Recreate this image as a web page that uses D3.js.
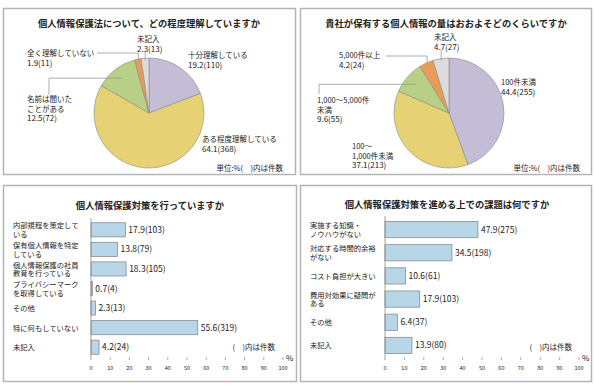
<!DOCTYPE html>
<html>
<head>
<meta charset="utf-8">
<script src="https://cdn.jsdelivr.net/npm/d3@7"></script>
<style>
  body { margin: 0; background: #fff; }
  text { font-family: "Noto Sans CJK JP", sans-serif; fill: #222; }
</style>
</head>
<body>
<svg id="chart" width="594" height="392"></svg>
<script>
// --- data ---
const knowLabels = [["十分理解している"], ["ある程度理解している"], ["名前は聞いた", "ことがある"], ["全く理解していない"], ["未記入"]]
const knowValues = [19.2, 64.1, 12.5, 1.9, 2.3]
const knowCounts = [110, 368, 72, 11, 13]

const amountLabels = [["100件未満"], ["100～", "1,000件未満"], ["1,000～5,000件", "未満"], ["5,000件以上"], ["未記入"]]
const amountValues = [44.4, 37.1, 9.6, 4.2, 4.7]
const amountCounts = [255, 213, 55, 24, 27]

const measureLabels = [["内部規程を策定して", "いる"], ["保有個人情報を特定", "している"], ["個人情報保護の社員", "教育を行っている"], ["プライバシーマーク", "を取得している"], ["その他"], ["特に何もしていない"], ["未記入"]]
const measureValues = [17.9, 13.8, 18.3, 0.7, 2.3, 55.6, 4.2]
const measureCounts = [103, 79, 105, 4, 13, 319, 24]

const issueLabels = [["実施する知識・", "ノウハウがない"], ["対応する時間的余裕", "がない"], ["コスト負担が大きい"], ["費用対効果に疑問が", "ある"], ["その他"], ["未記入"]]
const issueValues = [47.9, 34.5, 10.6, 17.9, 6.4, 13.9]
const issueCounts = [275, 198, 61, 103, 37, 80]

const pctTicks = [0, 10, 20, 30, 40, 50, 60, 70, 80, 90, 100]
const sliceColors = ["#c5bcd6", "#e6d274", "#b9cf86", "#e89c58", "#dcdcdc"]

const svg = d3.select("#chart")

// panel frames
const panels = [
  { x: 3.5, y: 8.5, w: 292, h: 166 },
  { x: 300.5, y: 8.5, w: 291, h: 166 },
  { x: 3.5, y: 185.5, w: 293, h: 196 },
  { x: 300.5, y: 185.5, w: 291, h: 196 }
]
svg.selectAll("rect.panel").data(panels).join("rect")
  .attr("class", "panel")
  .attr("x", d => d.x).attr("y", d => d.y)
  .attr("width", d => d.w).attr("height", d => d.h)
  .attr("fill", "none").attr("stroke", "#b4b4b4").attr("stroke-width", 1.5)

function title(x, y, t) {
  svg.append("text").attr("x", x).attr("y", y)
    .attr("text-anchor", "middle").attr("dominant-baseline", "central")
    .style("font-size", "9.3px").style("font-weight", "bold")
    .text(t)
}

// pie chart with labels and leader lines
function drawPie(cx, cy, r, labels, values, counts, layout) {
  const g = svg.append("g").attr("transform", `translate(${cx},${cy})`)
  const arcs = d3.pie().sort(null)(values)
  g.selectAll("path").data(arcs).join("path")
    .attr("d", d3.arc().innerRadius(0).outerRadius(r))
    .attr("fill", (d, i) => sliceColors[i])
    .attr("stroke", "#8a8a8a").attr("stroke-width", 0.6)

  arcs.forEach((a, i) => {
    const L = layout[i]
    const lines = labels[i].concat([values[i].toFixed(1) + "(" + counts[i] + ")"])
    const t = svg.append("text").style("font-size", "7.5px")
    lines.forEach((s, k) => {
      t.append("tspan").attr("x", L.x).attr("y", L.y + k * 9.5)
        .style("font-size", k === lines.length - 1 ? "8px" : null)
        .text(s)
    })
    if (L.leader) {
      const mid = (a.startAngle + a.endAngle) / 2
      const tx = cx + L.rf * r * Math.sin(mid)
      const ty = cy - L.rf * r * Math.cos(mid)
      let pts
      if (L.leader === "hv") pts = [[L.sx, L.sy], [tx, L.sy], [tx, ty]]
      else if (L.leader === "vh") pts = [[L.sx, L.sy], [L.sx, ty], [tx, ty]]
      else pts = [[tx, L.sy], [tx, ty]]
      svg.append("path").attr("d", d3.line()(pts))
        .attr("fill", "none").attr("stroke", "#999").attr("stroke-width", 0.8)
    }
  })
}

// horizontal bar chart
function drawBars(labels, values, counts, x0, x1, y0, y1, labelX, pad, noteX) {
  const x = d3.scaleLinear().domain([0, 100]).range([x0, x1])
  const y = d3.scaleBand().domain(d3.range(values.length)).range([y0, y1])
    .paddingInner(pad).paddingOuter(pad / 2)
  const g = svg.append("g")

  g.selectAll("rect").data(values).join("rect")
    .attr("x", x(0)).attr("y", (d, i) => y(i))
    .attr("width", d => x(d) - x(0)).attr("height", y.bandwidth())
    .attr("fill", "#b7d7e8").attr("stroke", "#8c8c8c").attr("stroke-width", 0.8)

  g.selectAll("text.val").data(values).join("text")
    .attr("class", "val")
    .attr("x", d => x(d) + 3).attr("y", (d, i) => y(i) + y.bandwidth() / 2 - 1)
    .attr("dominant-baseline", "central").style("font-size", "8.5px")
    .text((d, i) => d.toFixed(1) + "(" + counts[i] + ")")

  labels.forEach((lines, i) => {
    const c = y(i) + y.bandwidth() / 2
    const t = g.append("text").style("font-size", "7.3px").attr("dominant-baseline", "central")
    lines.forEach((s, k) => {
      t.append("tspan").attr("x", labelX).attr("y", c - (lines.length - 1) * 4.4 + k * 8.8).text(s)
    })
  })

  // left axis line
  g.append("line").attr("x1", x0).attr("x2", x0).attr("y1", y0 - 2).attr("y2", 360)
    .attr("stroke", "#8c8c8c").attr("stroke-width", 0.8)

  // ticks
  g.selectAll("line.tick").data(pctTicks.slice(1)).join("line")
    .attr("class", "tick")
    .attr("x1", d => x(d)).attr("x2", d => x(d)).attr("y1", 357).attr("y2", 360)
    .attr("stroke", "#8c8c8c").attr("stroke-width", 0.7)
  g.selectAll("text.tick").data(pctTicks).join("text")
    .attr("class", "tick")
    .attr("x", d => x(d)).attr("y", 368)
    .attr("text-anchor", "middle").attr("dominant-baseline", "central")
    .style("font-size", "5.5px")
    .text(d => d)

  g.append("text").attr("x", noteX).attr("y", 346).attr("text-anchor", "end")
    .attr("dominant-baseline", "central").style("font-size", "7.5px").text("(\u3000)内は件数")
  g.append("text").attr("x", x1 + 3).attr("y", 357)
    .attr("dominant-baseline", "central").style("font-size", "8px").text("%")
}

// --- top left ---
title(149, 23, "個人情報保護法について、どの程度理解していますか")
drawPie(149, 113, 55, knowLabels, knowValues, knowCounts, [
  { x: 188, y: 58 },
  { x: 202, y: 142 },
  { x: 27, y: 102, leader: "vh", sx: 49, sy: 95, rf: 0.8 },
  { x: 27, y: 56, leader: "hv", sx: 97, sy: 53, rf: 0.96 },
  { x: 137, y: 42, leader: "v", sy: 52, rf: 0.96 }
])
svg.append("text").attr("x", 283).attr("y", 167).attr("text-anchor", "end")
  .attr("dominant-baseline", "central").style("font-size", "7.5px").text("単位:%(\u3000)内は件数")

// --- top right ---
title(446, 23, "貴社が保有する個人情報の量はおおよそどのくらいですか")
drawPie(449, 113, 55, amountLabels, amountValues, amountCounts, [
  { x: 501, y: 85 },
  { x: 352, y: 149 },
  { x: 317, y: 103, leader: "vh", sx: 319, sy: 94, rf: 0.8 },
  { x: 339, y: 58, leader: "hv", sx: 386, sy: 56, rf: 0.96 },
  { x: 434, y: 40, leader: "v", sy: 50, rf: 0.96 }
])
svg.append("text").attr("x", 580).attr("y", 167).attr("text-anchor", "end")
  .attr("dominant-baseline", "central").style("font-size", "7.5px").text("単位:%(\u3000)内は件数")

// --- bottom left ---
title(150, 205, "個人情報保護対策を行っていますか")
drawBars(measureLabels, measureValues, measureCounts, 91, 283, 220, 357, 13, 0.28, 275)

// --- bottom right ---
title(447, 204, "個人情報保護対策を進める上での課題は何ですか")
drawBars(issueLabels, issueValues, issueCounts, 385, 579, 218, 357, 310, 0.3, 572)
</script>
</body>
</html>
